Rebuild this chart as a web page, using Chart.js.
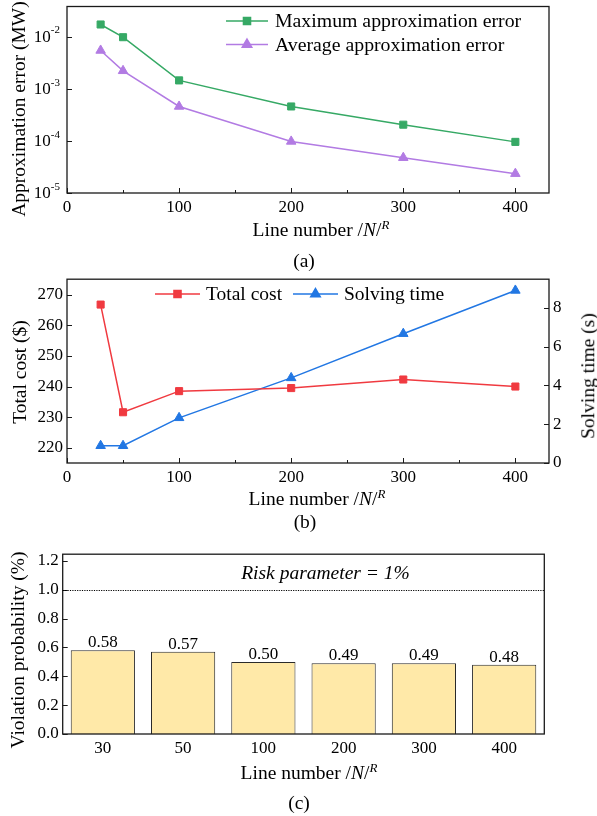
<!DOCTYPE html>
<html>
<head>
<meta charset="utf-8">
<script src="https://cdn.jsdelivr.net/npm/chart.js@4.4.1/dist/chart.umd.min.js"></script>
<style>
    body {
        margin: 0;
        width: 597px;
        height: 816px;
        position: relative;
        overflow: hidden;
        background: #fff;
        font-family: 'Liberation Serif', 'Times New Roman', serif;
    }
    canvas { position: absolute; left: 0; }
    .lbl {
        position: absolute;
        font-size: 19.5px;
        line-height: 1;
        white-space: nowrap;
        color: #000;
        transform: translate(-50%, -50%);
        z-index: 2;
    }
    .rot { transform: translate(-50%, -50%) rotate(-90deg); }
    .lbl sup { font-size: 13px; vertical-align: 7px; line-height: 0; }
</style>
</head>
<body>
<canvas id="chartA" width="597" height="225" style="top:0px"></canvas>
<canvas id="chartB" width="597" height="230" style="top:265px"></canvas>
<canvas id="chartC" width="597" height="230" style="top:540px"></canvas>

<div class="lbl rot" style="left:19px; top:109px">Approximation error (MW)</div>
<div class="lbl" style="left:321px; top:230px">Line number /<i>N</i>/<sup><i>R</i></sup></div>
<div class="lbl" style="left:304px; top:261px">(a)</div>

<div class="lbl rot" style="left:20px; top:372px">Total cost ($)</div>
<div class="lbl rot" style="left:588px; top:376px">Solving time (s)</div>
<div class="lbl" style="left:317px; top:499px">Line number /<i>N</i>/<sup><i>R</i></sup></div>
<div class="lbl" style="left:305px; top:522px">(b)</div>

<div class="lbl rot" style="left:18px; top:650px">Violation probability (%)</div>
<div class="lbl" style="left:309px; top:773px">Line number /<i>N</i>/<sup><i>R</i></sup></div>
<div class="lbl" style="left:299px; top:803px">(c)</div>

<script>
// ---- data ----
const lineNumbers = [30, 50, 100, 200, 300, 400];
const maxApproxError = [0.017, 0.0097, 0.00144, 0.000456, 0.000204, 0.0000955];
const avgApproxError = [0.0054, 0.0022, 0.000456, 0.0000975, 0.0000475, 0.0000235];
const totalCost = [266.8, 231.6, 238.5, 239.5, 242.3, 240.0];
const solvingTime = [0.89, 0.89, 2.33, 4.39, 6.67, 8.9];
const violationProb = [0.58, 0.57, 0.50, 0.49, 0.49, 0.48];
const riskParameter = 1.0;

const xTicks = [0, 100, 200, 300, 400];
const xMinorTicks = [50, 150, 250, 350];
const logTicks = [1e-5, 1e-4, 1e-3, 1e-2];
const costTicks = [220, 230, 240, 250, 260, 270];
const timeTicks = [0, 2, 4, 6, 8];
const probTicks = [0, 0.2, 0.4, 0.6, 0.8, 1.0, 1.2];

const GREEN = '#36a965';
const PURPLE = '#b27be3';
const RED = '#f03a40';
const BLUE = '#2277e3';
const FONT = "'Liberation Serif', 'Times New Roman', serif";

Chart.defaults.font.family = FONT;
Chart.defaults.font.size = 17;
Chart.defaults.color = '#000';
Chart.defaults.animation = false;

const fixWidth = w => scale => { scale.width = w; };
const fixHeight = h => scale => { scale.height = h; };
const setTicks = values => scale => { scale.ticks = values.map(v => ({ value: v })); };
const points = ys => lineNumbers.map((x, i) => ({ x: x, y: ys[i] }));

// box round the plot area plus inward tick marks
const framePlugin = {
    id: 'frame',
    afterDraw(chart, args, opts) {
        const { ctx, chartArea: a } = chart;
        ctx.save();
        ctx.strokeStyle = '#1a1a1a';
        ctx.lineWidth = 1;
        const marks = opts.marks || {};
        Object.keys(marks).forEach(id => {
            const scale = chart.scales[id];
            const draw = (v, len) => {
                const p = Math.round(scale.getPixelForValue(v)) + 0.5;
                ctx.beginPath();
                if (scale.position === 'bottom') { ctx.moveTo(p, a.bottom); ctx.lineTo(p, a.bottom - len); }
                else if (scale.position === 'left') { ctx.moveTo(a.left, p); ctx.lineTo(a.left + len, p); }
                else { ctx.moveTo(a.right, p); ctx.lineTo(a.right - len, p); }
                ctx.stroke();
            };
            (marks[id].major || []).forEach(v => draw(v, 5));
            (marks[id].minor || []).forEach(v => draw(v, 3));
        });
        ctx.lineWidth = 1.3;
        ctx.strokeRect(a.left, a.top, a.right - a.left, a.bottom - a.top);
        ctx.restore();
    }
};

// legend drawn as line + marker + text
const lineLegendPlugin = {
    id: 'lineLegend',
    afterDraw(chart, args, opts) {
        if (!opts.items) return;
        const ctx = chart.ctx;
        ctx.save();
        opts.items.forEach((it, i) => {
            const ds = chart.data.datasets[i];
            ctx.strokeStyle = ds.borderColor;
            ctx.fillStyle = ds.borderColor;
            ctx.lineWidth = 1.5;
            ctx.beginPath();
            ctx.moveTo(it.x, it.y);
            ctx.lineTo(it.x + opts.lineLength, it.y);
            ctx.stroke();
            Chart.helpers.drawPoint(ctx, {
                pointStyle: ds.pointStyle, radius: ds.pointRadius, rotation: 0, borderWidth: 1
            }, it.x + opts.lineLength / 2, it.y);
            ctx.fillStyle = '#000';
            ctx.font = opts.fontSize + 'px ' + FONT;
            ctx.textBaseline = 'middle';
            ctx.textAlign = 'left';
            ctx.fillText(ds.label, it.x + opts.lineLength + opts.gap, it.y + 1);
        });
        ctx.restore();
    }
};

// 10^n tick labels for the log axis
const powerLabelPlugin = {
    id: 'powerLabels',
    afterDraw(chart) {
        const scale = chart.scales.y;
        const ctx = chart.ctx;
        ctx.save();
        ctx.fillStyle = '#000';
        ctx.textBaseline = 'middle';
        ctx.textAlign = 'left';
        logTicks.forEach(v => {
            const p = scale.getPixelForValue(v);
            const sup = String(Math.round(Math.log10(v)));
            ctx.font = '11px ' + FONT;
            const supW = ctx.measureText(sup).width;
            ctx.font = '17px ' + FONT;
            const baseW = ctx.measureText('10').width;
            const right = scale.right - 7;
            ctx.fillText('10', right - supW - baseW, p + 1);
            ctx.font = '11px ' + FONT;
            ctx.fillText(sup, right - supW, p - 6);
        });
        ctx.restore();
    }
};

const lineDataset = (label, ys, color, style, yAxisID) => ({
    label: label,
    data: points(ys),
    borderColor: color,
    backgroundColor: color,
    borderWidth: 1.5,
    pointStyle: style,
    pointRadius: style === 'rect' ? 5 : 5.5,
    pointBorderWidth: 1,
    pointBackgroundColor: color,
    pointBorderColor: color,
    yAxisID: yAxisID || 'y',
});

const xLinear = height => ({
    type: 'linear',
    min: 0,
    max: 430,
    afterBuildTicks: setTicks(xTicks),
    afterFit: fixHeight(height),
    grid: { display: false, drawTicks: false },
    border: { display: false },
    ticks: { padding: 4, maxRotation: 0 },
});

// (a) approximation error
new Chart(document.getElementById('chartA'), {
    type: 'line',
    data: {
        datasets: [
            lineDataset('Maximum approximation error', maxApproxError, GREEN, 'rect'),
            lineDataset('Average approximation error', avgApproxError, PURPLE, 'triangle'),
        ]
    },
    options: {
        responsive: false,
        layout: { padding: { top: 6, right: 48, left: 0, bottom: 0 } },
        scales: {
            x: xLinear(32),
            y: {
                type: 'logarithmic',
                min: 1e-5,
                max: 0.0376,
                afterBuildTicks: setTicks(logTicks),
                afterFit: fixWidth(67),
                grid: { display: false, drawTicks: false },
                border: { display: false },
                ticks: { display: false },
            }
        },
        plugins: {
            legend: { display: false },
            tooltip: { enabled: false },
            frame: { marks: { x: { major: xTicks, minor: xMinorTicks }, y: { major: logTicks } } },
            lineLegend: { lineLength: 42, gap: 7, fontSize: 19.8, items: [{ x: 226, y: 21 }, { x: 226, y: 44.5 }] },
        }
    },
    plugins: [framePlugin, lineLegendPlugin, powerLabelPlugin]
});

// (b) total cost and solving time
new Chart(document.getElementById('chartB'), {
    type: 'line',
    data: {
        datasets: [
            lineDataset('Total cost', totalCost, RED, 'rect', 'y'),
            lineDataset('Solving time', solvingTime, BLUE, 'triangle', 'y1'),
        ]
    },
    options: {
        responsive: false,
        layout: { padding: { top: 12, right: 0, left: 0, bottom: 0 } },
        scales: {
            x: xLinear(32),
            y: {
                position: 'left',
                min: 215,
                max: 275.1,
                afterBuildTicks: setTicks(costTicks),
                afterFit: fixWidth(67),
                grid: { display: false, drawTicks: false },
                border: { display: false },
                ticks: { padding: 4 },
            },
            y1: {
                position: 'right',
                min: 0,
                max: 9.48,
                afterBuildTicks: setTicks(timeTicks),
                afterFit: fixWidth(48),
                grid: { display: false, drawTicks: false },
                border: { display: false },
                ticks: { padding: 4 },
            }
        },
        plugins: {
            legend: { display: false },
            tooltip: { enabled: false },
            frame: { marks: { x: { major: xTicks, minor: xMinorTicks }, y: { major: costTicks }, y1: { major: timeTicks } } },
            lineLegend: { lineLength: 45, gap: 6, fontSize: 19.5, items: [{ x: 155, y: 29 }, { x: 293, y: 29 }] },
        }
    },
    plugins: [framePlugin, lineLegendPlugin]
});

// (c) violation probability
const barExtrasPlugin = {
    id: 'barExtras',
    afterDraw(chart) {
        const ctx = chart.ctx;
        const a = chart.chartArea;
        const y = chart.scales.y;
        ctx.save();
        // risk parameter line
        const py = Math.round(y.getPixelForValue(riskParameter)) + 0.5;
        ctx.strokeStyle = '#000';
        ctx.lineWidth = 1;
        ctx.setLineDash([1.2, 1.2]);
        ctx.beginPath();
        ctx.moveTo(a.left, py);
        ctx.lineTo(a.right, py);
        ctx.stroke();
        ctx.setLineDash([]);
        ctx.fillStyle = '#000';
        ctx.textAlign = 'center';
        ctx.textBaseline = 'middle';
        ctx.font = 'italic 19.5px ' + FONT;
        ctx.fillText('Risk parameter = 1%', 325.5, py - 17);
        // value labels
        ctx.font = '17px ' + FONT;
        ctx.textBaseline = 'alphabetic';
        chart.getDatasetMeta(0).data.forEach((bar, i) => {
            ctx.fillText(violationProb[i].toFixed(2), bar.x, bar.y - 3);
        });
        ctx.restore();
    }
};

new Chart(document.getElementById('chartC'), {
    type: 'bar',
    data: {
        labels: lineNumbers.map(String),
        datasets: [{
            label: 'Violation probability',
            data: violationProb,
            backgroundColor: '#ffe9a8',
            borderColor: '#2a2a2a',
            borderWidth: 1,
            categoryPercentage: 0.8,
            barPercentage: 1.0,
        }]
    },
    options: {
        responsive: false,
        layout: { padding: { top: 7.3, right: 52.7, left: 0, bottom: 0 } },
        scales: {
            x: {
                afterFit: fixHeight(36),
                grid: { display: false, drawTicks: false },
                border: { display: false },
                ticks: { padding: 4 },
            },
            y: {
                min: 0,
                max: 1.247,
                afterBuildTicks: setTicks(probTicks),
                afterFit: fixWidth(62.7),
                grid: { display: false, drawTicks: false },
                border: { display: false },
                ticks: { padding: 4, callback: v => v.toFixed(1) },
            }
        },
        plugins: {
            legend: { display: false },
            tooltip: { enabled: false },
            frame: { marks: { y: { major: probTicks } } },
        }
    },
    plugins: [framePlugin, barExtrasPlugin]
});
</script>
</body>
</html>
